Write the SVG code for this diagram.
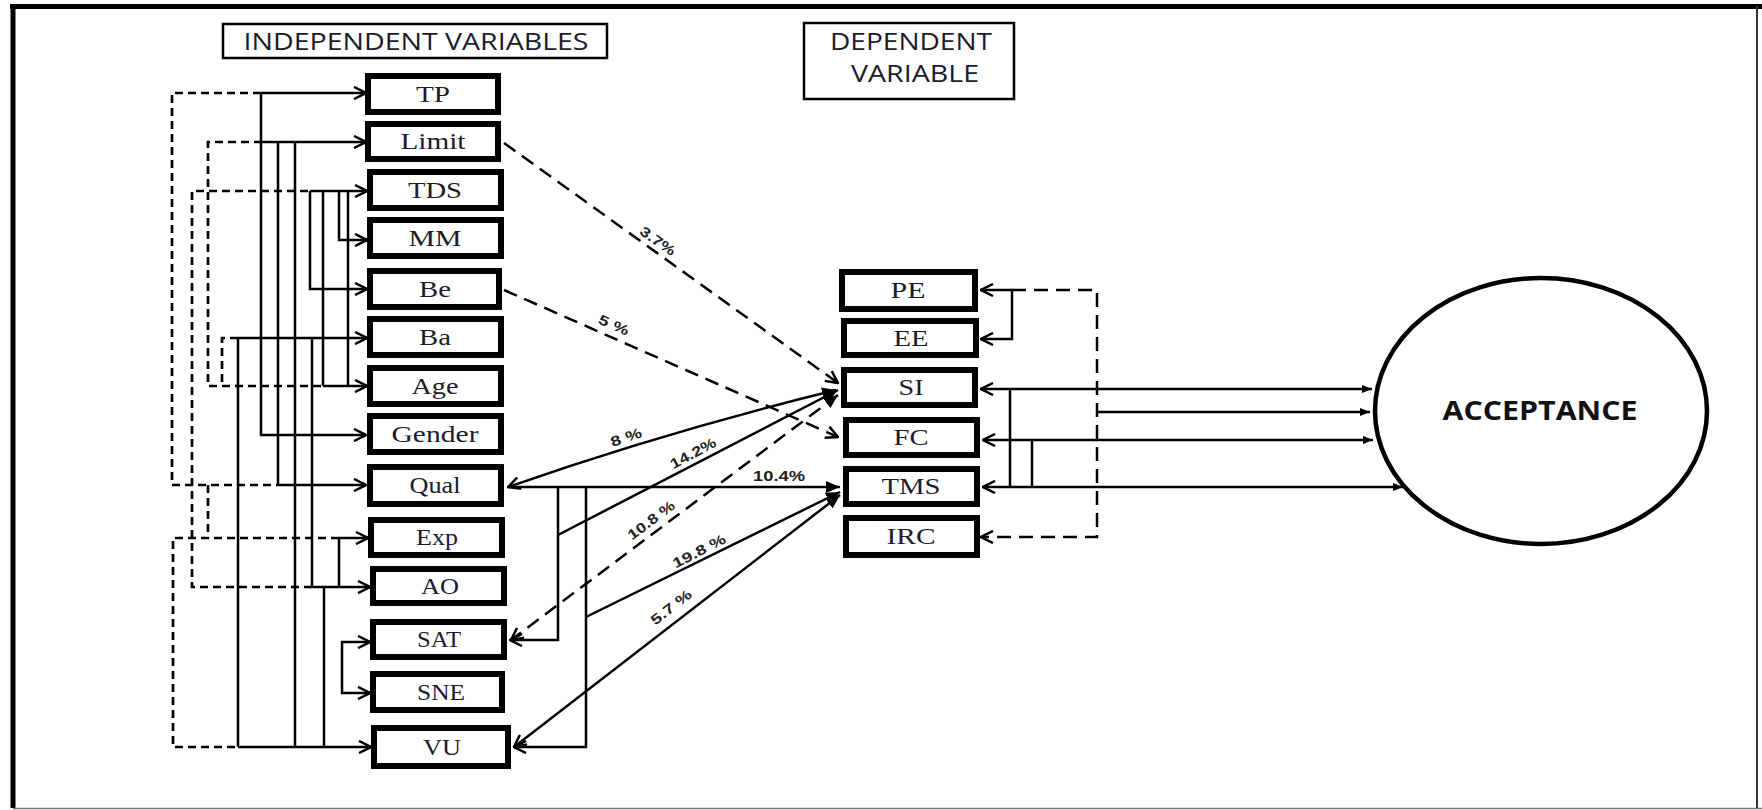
<svg xmlns="http://www.w3.org/2000/svg" width="1762" height="810" viewBox="0 0 1762 810">
  <style>
    .box { fill: #fff; stroke: #000; stroke-width: 6; }
    .hdr { fill: #fff; stroke: #000; stroke-width: 2.5; }
    .lbl { font-family: "Liberation Serif", "Times New Roman", serif; font-size: 23px; fill: #1b1b2b; text-anchor: middle; }
    .head { font-family: "Open Sans", "Liberation Sans", sans-serif; font-size: 23px; fill: #1b1b2b; text-anchor: middle; }
    .pct { font-family: "Liberation Sans", Arial, sans-serif; font-size: 14px; font-weight: bold; fill: #222; text-anchor: middle; }
    .ln { fill: none; stroke: #000; stroke-width: 2.5; }
    .dash { fill: none; stroke: #000; stroke-width: 2.7; stroke-dasharray: 8 5; }
    .dlong { fill: none; stroke: #000; stroke-width: 2.5; stroke-dasharray: 14 8; }
  </style>
  <defs>
    <marker id="chev" viewBox="0 0 14 14" refX="13" refY="7" markerWidth="14" markerHeight="14" markerUnits="userSpaceOnUse" orient="auto-start-reverse">
      <path d="M1,1 L13,7 L1,13" fill="none" stroke="#000" stroke-width="2.5"/>
    </marker>
    <marker id="hub" viewBox="0 0 14 12" refX="14" refY="6" markerWidth="14" markerHeight="12" markerUnits="userSpaceOnUse" orient="auto-start-reverse">
      <path d="M0,0 L14,6 L0,12 Z" fill="#000"/>
    </marker>
    <marker id="tri" viewBox="0 0 10 8" refX="10" refY="4" markerWidth="10" markerHeight="8" markerUnits="userSpaceOnUse" orient="auto">
      <path d="M0,0 L10,4 L0,8 Z" fill="#000"/>
    </marker>
  </defs>

  <rect x="0" y="0" width="1762" height="810" fill="#fff"/>

  <!-- outer frame -->
  <g id="frame">
    <line x1="10" y1="6.5" x2="1762" y2="6.5" stroke="#000" stroke-width="5"/>
    <line x1="13" y1="6" x2="13" y2="808" stroke="#000" stroke-width="5"/>
    <line x1="13" y1="808.5" x2="1762" y2="808.5" stroke="#777" stroke-width="1.5"/>
    <line x1="1757" y1="6" x2="1757" y2="808" stroke="#333" stroke-width="2"/>
  </g>

  <!-- section headers -->
  <g id="hdr-independent">
    <rect class="hdr" x="223" y="24" width="384" height="34"/>
    <text class="head" x="416" y="50" textLength="345" lengthAdjust="spacingAndGlyphs">INDEPENDENT VARIABLES</text>
  </g>
  <g id="hdr-dependent">
    <rect class="hdr" x="804" y="23" width="210" height="76"/>
    <text class="head" x="911" y="50" textLength="162" lengthAdjust="spacingAndGlyphs">DEPENDENT</text>
    <text class="head" x="915" y="82" textLength="128" lengthAdjust="spacingAndGlyphs">VARIABLE</text>
  </g>

  <!-- connectors -->
  <g id="connectors">
    <!-- dashed links among independent variables -->
    <path class="dash" d="M261,93 H172 V485 H278"/>
    <path class="dash" d="M262,142 H208 V386 H323"/>
    <path class="dash" d="M308,191 H192 V587 H311"/>
    <path class="dash" d="M238,338 H222 V386"/>
    <path class="dash" d="M208,485 V538"/>
    <path class="dash" d="M339,538 H173 V747 H238"/>

    <!-- solid links among independent variables -->
    <path class="ln" d="M261,93 H366" marker-end="url(#chev)"/>
    <path class="ln" d="M261,93 V435 H366" marker-end="url(#chev)"/>
    <path class="ln" d="M261,142 H366" marker-end="url(#chev)"/>
    <path class="ln" d="M278,142 V485"/>
    <path class="ln" d="M278,485 H366" marker-end="url(#chev)"/>
    <path class="ln" d="M295,142 V747"/>
    <path class="ln" d="M310,191 H367" marker-end="url(#chev)"/>
    <path class="ln" d="M310,191 V289 H367" marker-end="url(#chev)"/>
    <path class="ln" d="M323,191 V386"/>
    <path class="ln" d="M339,191 V240 H367" marker-end="url(#chev)"/>
    <path class="ln" d="M348,191 V386"/>
    <path class="ln" d="M323,386 H367" marker-end="url(#chev)"/>
    <path class="ln" d="M238,338 H367" marker-end="url(#chev)"/>
    <path class="ln" d="M238,338 V747"/>
    <path class="ln" d="M312,338 V587"/>
    <path class="ln" d="M310,587 H370" marker-end="url(#chev)"/>
    <path class="ln" d="M339,538 H368" marker-end="url(#chev)"/>
    <path class="ln" d="M339,538 V587"/>
    <path class="ln" d="M324,587 V747"/>
    <path class="ln" d="M238,747 H371" marker-end="url(#chev)"/>
    <path class="ln" d="M370,642 H342 V693 H370" marker-start="url(#chev)" marker-end="url(#chev)"/>

    <!-- independent to dependent -->
    <path class="dlong" d="M504,143 L838,383" marker-end="url(#chev)"/>
    <path class="dlong" d="M504,290 L838,437" marker-end="url(#chev)"/>
    <path class="ln" d="M836,390 Q665,432 508,487" marker-start="url(#hub)" marker-end="url(#chev)"/>
    <path class="ln" d="M508,487 H840" marker-end="url(#hub)"/>
    <path class="ln" d="M558,487 V640 H510" marker-end="url(#chev)"/>
    <path class="ln" d="M586,487 V747 H514" marker-end="url(#chev)"/>
    <path class="ln" d="M558,535 L838,390" marker-end="url(#hub)"/>
    <path class="dlong" d="M838,395 L511,640" marker-start="url(#hub)" marker-end="url(#chev)"/>
    <path class="ln" d="M586,617 L840,492" marker-end="url(#hub)"/>
    <path class="ln" d="M840,495 L514,747" marker-start="url(#hub)" marker-end="url(#chev)"/>

    <!-- dependent variable links -->
    <path class="ln" d="M981,290 H1012 V339 H981" marker-start="url(#chev)" marker-end="url(#chev)"/>
    <path class="dlong" d="M1012,290 H1097 V537 H981" marker-end="url(#chev)"/>
    <path class="ln" d="M981,389 H1372" marker-start="url(#chev)" marker-end="url(#tri)"/>
    <path class="ln" d="M1010,389 V487"/>
    <path class="ln" d="M1097,412 H1370" marker-end="url(#tri)"/>
    <path class="ln" d="M983,440 H1373" marker-start="url(#chev)" marker-end="url(#tri)"/>
    <path class="ln" d="M1032,440 V487"/>
    <path class="ln" d="M983,487 H1403" marker-start="url(#chev)" marker-end="url(#tri)"/>

    <!-- path weights -->
    <text class="pct" x="658" y="246" transform="rotate(35 658 241)" textLength="40" lengthAdjust="spacingAndGlyphs">3.7%</text>
    <text class="pct" x="614" y="330" transform="rotate(24 614 325)" textLength="32" lengthAdjust="spacingAndGlyphs">5 %</text>
    <text class="pct" x="626" y="442" transform="rotate(-19 626 437)" textLength="32" lengthAdjust="spacingAndGlyphs">8 %</text>
    <text class="pct" x="693" y="458" transform="rotate(-28 693 453)" textLength="50" lengthAdjust="spacingAndGlyphs">14.2%</text>
    <text class="pct" x="779" y="481" textLength="52" lengthAdjust="spacingAndGlyphs">10.4%</text>
    <text class="pct" x="651" y="525" transform="rotate(-37 651 520)" textLength="55" lengthAdjust="spacingAndGlyphs">10.8 %</text>
    <text class="pct" x="699" y="556" transform="rotate(-27 699 551)" textLength="58" lengthAdjust="spacingAndGlyphs">19.8 %</text>
    <text class="pct" x="671" y="612" transform="rotate(-38 671 607)" textLength="48" lengthAdjust="spacingAndGlyphs">5.7 %</text>
  </g>

  <!-- independent variables -->
  <g id="node-tp"><rect class="box" x="368" y="76" width="130" height="36"/><text class="lbl" x="433" y="102" textLength="34" lengthAdjust="spacingAndGlyphs">TP</text></g>
  <g id="node-limit"><rect class="box" x="368" y="124" width="130" height="35"/><text class="lbl" x="433" y="149" textLength="65" lengthAdjust="spacingAndGlyphs">Limit</text></g>
  <g id="node-tds"><rect class="box" x="370" y="172" width="131" height="36"/><text class="lbl" x="435" y="198" textLength="54" lengthAdjust="spacingAndGlyphs">TDS</text></g>
  <g id="node-mm"><rect class="box" x="370" y="220" width="131" height="36"/><text class="lbl" x="435" y="246" textLength="53" lengthAdjust="spacingAndGlyphs">MM</text></g>
  <g id="node-be"><rect class="box" x="370" y="271" width="129" height="36"/><text class="lbl" x="435" y="297" textLength="32" lengthAdjust="spacingAndGlyphs">Be</text></g>
  <g id="node-ba"><rect class="box" x="370" y="319" width="131" height="36"/><text class="lbl" x="435" y="345" textLength="32" lengthAdjust="spacingAndGlyphs">Ba</text></g>
  <g id="node-age"><rect class="box" x="370" y="368" width="131" height="36"/><text class="lbl" x="435" y="394" textLength="47" lengthAdjust="spacingAndGlyphs">Age</text></g>
  <g id="node-gender"><rect class="box" x="370" y="416" width="131" height="36"/><text class="lbl" x="435" y="442" textLength="87" lengthAdjust="spacingAndGlyphs">Gender</text></g>
  <g id="node-qual"><rect class="box" x="370" y="467" width="131" height="37"/><text class="lbl" x="435" y="493" textLength="51" lengthAdjust="spacingAndGlyphs">Qual</text></g>
  <g id="node-exp"><rect class="box" x="371" y="520" width="131" height="35"/><text class="lbl" x="437" y="545" textLength="42" lengthAdjust="spacingAndGlyphs">Exp</text></g>
  <g id="node-ao"><rect class="box" x="373" y="569" width="131" height="34"/><text class="lbl" x="440" y="594" textLength="38" lengthAdjust="spacingAndGlyphs">AO</text></g>
  <g id="node-sat"><rect class="box" x="373" y="622" width="131" height="35"/><text class="lbl" x="439" y="647" textLength="44" lengthAdjust="spacingAndGlyphs">SAT</text></g>
  <g id="node-sne"><rect class="box" x="373" y="674" width="129" height="36"/><text class="lbl" x="441" y="700" textLength="48" lengthAdjust="spacingAndGlyphs">SNE</text></g>
  <g id="node-vu"><rect class="box" x="374" y="728" width="134" height="38"/><text class="lbl" x="442" y="755" textLength="38" lengthAdjust="spacingAndGlyphs">VU</text></g>

  <!-- dependent variables -->
  <g id="node-pe"><rect class="box" x="842" y="272" width="133" height="37"/><text class="lbl" x="908" y="298" textLength="35" lengthAdjust="spacingAndGlyphs">PE</text></g>
  <g id="node-ee"><rect class="box" x="844" y="321" width="132" height="34"/><text class="lbl" x="911" y="346" textLength="35" lengthAdjust="spacingAndGlyphs">EE</text></g>
  <g id="node-si"><rect class="box" x="844" y="370" width="131" height="35"/><text class="lbl" x="911" y="395" textLength="25" lengthAdjust="spacingAndGlyphs">SI</text></g>
  <g id="node-fc"><rect class="box" x="846" y="420" width="131" height="35"/><text class="lbl" x="911" y="445" textLength="35" lengthAdjust="spacingAndGlyphs">FC</text></g>
  <g id="node-tms"><rect class="box" x="846" y="469" width="131" height="35"/><text class="lbl" x="911" y="494" textLength="59" lengthAdjust="spacingAndGlyphs">TMS</text></g>
  <g id="node-irc"><rect class="box" x="846" y="518" width="131" height="37"/><text class="lbl" x="911" y="544" textLength="49" lengthAdjust="spacingAndGlyphs">IRC</text></g>

  <!-- outcome -->
  <g id="node-acceptance">
    <ellipse cx="1541" cy="411" rx="166" ry="133" fill="#fff" stroke="#000" stroke-width="4.5"/>
    <text x="1540" y="420" font-family="Open Sans, Liberation Sans, sans-serif" font-size="26" font-weight="bold" fill="#111" text-anchor="middle" textLength="195" lengthAdjust="spacingAndGlyphs">ACCEPTANCE</text>
  </g>
</svg>
